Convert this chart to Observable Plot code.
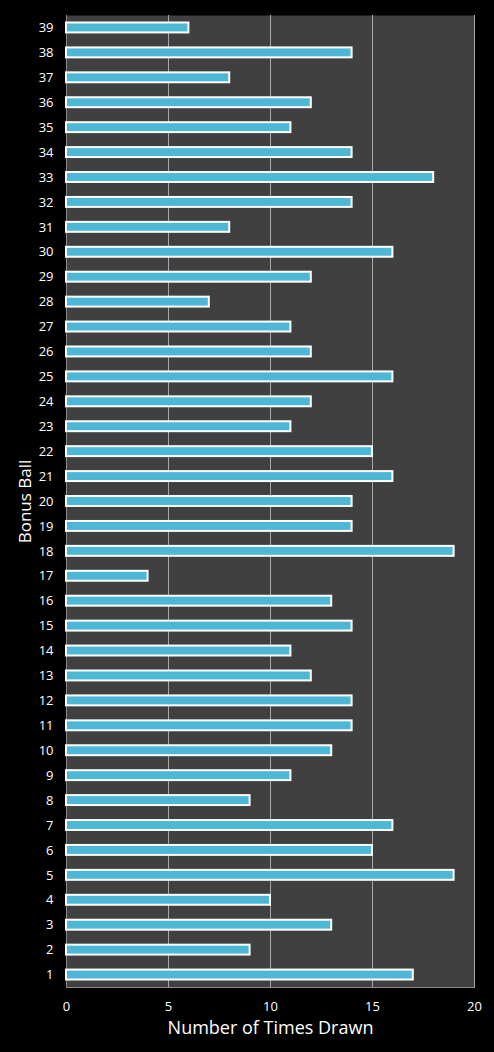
<!DOCTYPE html>
<html>
<head>
<meta charset="utf-8">
<script src="https://cdn.jsdelivr.net/npm/d3@7"></script>
<script src="https://cdn.jsdelivr.net/npm/@observablehq/plot@0.6"></script>
<style>
  html, body { margin: 0; padding: 0; background: #000; }
  #chart svg { display: block; }
</style>
</head>
<body>
<div id="chart"></div>
<script>
const balls = [1,2,3,4,5,6,7,8,9,10,11,12,13,14,15,16,17,18,19,20,21,22,23,24,25,26,27,28,29,30,31,32,33,34,35,36,37,38,39];
const timesDrawn = [17,9,13,10,19,15,16,9,11,13,14,14,12,11,14,13,4,19,14,14,16,15,11,12,16,12,11,7,12,16,8,14,18,14,11,12,8,14,6];
const xTicks = [0,5,10,15,20];
const gridValues = [5,10,15,20];

const data = balls.map((b, i) => ({ball: String(b), count: timesDrawn[i]}));
const yDomain = balls.slice().reverse().map(String);

const chart = Plot.plot({
  width: 494,
  height: 1052,
  marginLeft: 66,
  marginRight: 20,
  marginTop: 15,
  marginBottom: 65,
  style: {background: "#000", color: "#fff", fontFamily: "'Open Sans', 'DejaVu Sans', sans-serif", fontSize: "13px"},
  x: {domain: [0, 20], ticks: xTicks, tickSize: 0, tickPadding: 14, label: null},
  y: {domain: yDomain, padding: 0, tickSize: 0, tickPadding: 13, label: null},
  marks: [
    Plot.frame({fill: "#404040", stroke: null}),
    Plot.ruleX(gridValues, {stroke: "#a8a8a8", strokeWidth: 1}),
    Plot.ruleX([0], {stroke: "#8a8a8a", strokeWidth: 1}),
    Plot.frame({anchor: "bottom", stroke: "#8a8a8a", strokeWidth: 1}),
    Plot.barX(data, {x: "count", y: "ball", fill: "#4db8d5", stroke: "#fff", strokeWidth: 2, insetTop: 7.5, insetBottom: 7.5}),
    Plot.axisX({ticks: xTicks, tickSize: 0, tickPadding: 14, fill: "#fff", fontSize: 13, label: null}),
    Plot.axisY({tickSize: 0, tickPadding: 13, fill: "#fff", fontSize: 13, label: null}),
    Plot.text(["Number of Times Drawn"], {frameAnchor: "bottom", dy: 46, fill: "#fff", fontSize: 18}),
    Plot.text(["Bonus Ball"], {frameAnchor: "left", textAnchor: "middle", dx: -41, rotate: -90, fill: "#fff", fontSize: 17})
  ]
});
document.getElementById("chart").appendChild(chart);
</script>
</body>
</html>
